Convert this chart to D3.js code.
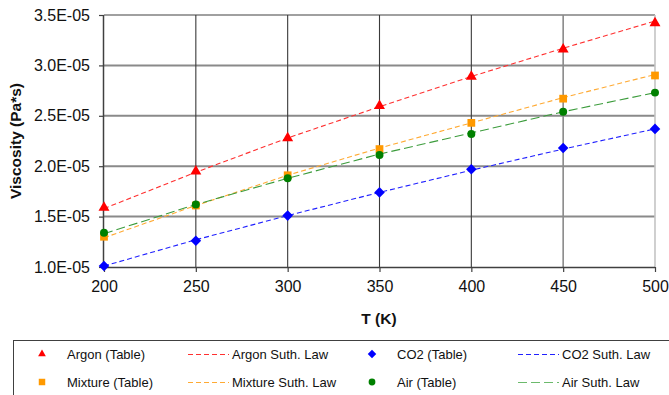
<!DOCTYPE html>
<html>
<head>
<meta charset="utf-8">
<script src="https://cdn.jsdelivr.net/npm/d3@7"></script>
<style>
  html, body { margin: 0; padding: 0; background: #fff; }
  svg { display: block; font-family: "Liberation Sans", Arial, sans-serif; }
</style>
</head>
<body>
<svg id="chart" width="669" height="395"></svg>
<script>
// Temperatures (K)
const temps = [200, 250, 300, 350, 400, 450, 500];

// Tabulated viscosities (units of 1E-05 Pa*s)
const argonTable   = [1.59, 1.95, 2.28, 2.60, 2.89, 3.16, 3.42];
const co2Table     = [1.01, 1.26, 1.51, 1.74, 1.97, 2.18, 2.37];
const mixtureTable = [1.30, 1.61, 1.91, 2.17, 2.43, 2.67, 2.90];
const airTable     = [1.34, 1.62, 1.88, 2.11, 2.32, 2.54, 2.73];

// Sutherland law curves (units of 1E-05 Pa*s)
const argonSuth   = [1.58, 1.94, 2.28, 2.59, 2.89, 3.17, 3.44];
const co2Suth     = [1.01, 1.27, 1.51, 1.74, 1.96, 2.17, 2.37];
const mixtureSuth = [1.29, 1.61, 1.91, 2.18, 2.43, 2.68, 2.91];
const airSuth     = [1.33, 1.62, 1.88, 2.12, 2.33, 2.54, 2.73];

// Axis ticks
const xTicks = [200, 250, 300, 350, 400, 450, 500];
const yTicks = [1.0, 1.5, 2.0, 2.5, 3.0, 3.5];
const yTickLabels = ["1.0E-05", "1.5E-05", "2.0E-05", "2.5E-05", "3.0E-05", "3.5E-05"];

const svg = d3.select("#chart");
const L = 104, R = 655, T = 15, B = 267;

const x = d3.scaleLinear().domain([200, 500]).range([L, R]);
const y = d3.scaleLinear().domain([1.0, 3.5]).range([B, T]);

// Gridlines: grey horizontals, dark verticals, light outer frame
const grid = svg.append("g");
grid.selectAll("line.h").data(yTicks.slice(1)).join("line")
  .attr("x1", L).attr("x2", R)
  .attr("y1", d => y(d)).attr("y2", d => y(d))
  .attr("stroke", d => d === 3.5 ? "#a0a0a0" : "#8a8a8a").attr("stroke-width", 2);
grid.selectAll("line.v").data(xTicks.slice(1)).join("line")
  .attr("y1", T).attr("y2", B)
  .attr("x1", d => x(d)).attr("x2", d => x(d))
  .attr("stroke", d => d === 500 ? "#c4c4c4" : (d === 450 ? "#8a8a8a" : "#3a3a3a"))
  .attr("stroke-width", d => d >= 450 ? 1.6 : 1.1);

// Axes
const xAxis = d3.axisBottom(x).tickValues(xTicks).tickSize(5).tickPadding(9).tickFormat(d3.format("d"));
const yAxis = d3.axisLeft(y).tickValues(yTicks).tickSize(5).tickPadding(9)
  .tickFormat((d, i) => yTickLabels[i]);

const gx = svg.append("g").attr("transform", `translate(0,${B})`).call(xAxis);
const gy = svg.append("g").attr("transform", `translate(${L},0)`).call(yAxis);
[gx, gy].forEach(g => {
  g.select(".domain").attr("stroke", "#404040").attr("stroke-width", 1.5);
  g.selectAll(".tick line").attr("stroke", "#404040").attr("stroke-width", 1.2);
  g.selectAll(".tick text").attr("fill", "#111").style("font-size", "16px")
    .style("font-family", "'Liberation Sans', Arial, sans-serif");
});
gx.select(".domain").attr("d", `M${L},0.5H${R}`);
gy.select(".domain").attr("d", `M-0.5,${B}V${T}`);

// Axis titles
svg.append("text").attr("x", 379).attr("y", 324).attr("text-anchor", "middle")
  .style("font-size", "15.5px").style("font-weight", "bold").attr("fill", "#111").text("T (K)");
svg.append("text").attr("transform", `translate(21,${(T + B) / 2}) rotate(-90)`)
  .attr("text-anchor", "middle").style("font-size", "15.5px").style("font-weight", "bold")
  .attr("fill", "#111").text("Viscosity (Pa*s)");

// Diamond drawn as a square turned 45 degrees
const symbolRhomb = {
  draw(ctx, size) {
    const r = Math.sqrt(size / 2);
    ctx.moveTo(0, -r); ctx.lineTo(r, 0); ctx.lineTo(0, r); ctx.lineTo(-r, 0); ctx.closePath();
  }
};

const series = [
  { table: argonTable, suth: argonSuth, color: "#ff0000", line: "#ff3030", dash: "5,3", shape: d3.symbolTriangle, size: 52, lsize: 26, name: "Argon" },
  { table: mixtureTable, suth: mixtureSuth, color: "#ff9900", line: "#ffaa33", dash: "5,3", shape: d3.symbolSquare, size: 60, lsize: 42, name: "Mixture" },
  { table: co2Table, suth: co2Suth, color: "#0000ff", line: "#2020ff", dash: "5,3", shape: symbolRhomb, size: 56, lsize: 36, name: "CO2" },
  { table: airTable, suth: airSuth, color: "#008000", line: "#3c9c3c", dash: "9,4", shape: d3.symbolCircle, size: 50, lsize: 36, name: "Air" }
];

const lineGen = d3.line().x((d, i) => x(temps[i])).y(d => y(d));

// Sutherland law lines
series.forEach(s => {
  svg.append("path").datum(s.suth).attr("d", lineGen)
    .attr("fill", "none").attr("stroke", s.line).attr("stroke-width", 1.1)
    .attr("stroke-dasharray", s.dash);
});
// Table markers
series.forEach(s => {
  svg.append("g").selectAll("path").data(s.table).join("path")
    .attr("transform", (d, i) => `translate(${x(temps[i])},${y(d)})`)
    .attr("d", d3.symbol().type(s.shape).size(s.size))
    .attr("fill", s.color);
});

// Legend
const lg = svg.append("g");
lg.append("rect").attr("x", 13.5).attr("y", 340.5).attr("width", 680).attr("height", 80)
  .attr("fill", "#fff").attr("stroke", "#404040").attr("stroke-width", 1);

const legendItems = [
  { s: series[0], col: 0, row: 0 },
  { s: series[2], col: 1, row: 0 },
  { s: series[1], col: 0, row: 1 },
  { s: series[3], col: 1, row: 1 }
];
legendItems.forEach(({ s, col, row }) => {
  const ox = col * 330, oy = 354 + row * 28;
  lg.append("path").attr("transform", `translate(${42 + ox},${oy})`)
    .attr("d", d3.symbol().type(s.shape).size(s.lsize)).attr("fill", s.color);
  lg.append("text").attr("x", 67 + ox).attr("y", oy).attr("dy", "0.35em")
    .style("font-size", "13px").attr("fill", "#111").text(`${s.name} (Table)`);
  lg.append("line").attr("x1", 188 + ox).attr("x2", 229 + ox)
    .attr("y1", oy + 0.5).attr("y2", oy + 0.5)
    .attr("stroke", s.name === "Air" ? "#6cba6c" : s.line).attr("stroke-width", 1)
    .attr("stroke-dasharray", s.name === "Air" ? "9,4" : "5,3");
  lg.append("text").attr("x", 232 + ox).attr("y", oy).attr("dy", "0.35em")
    .style("font-size", "13px").attr("fill", "#111").text(`${s.name} Suth. Law`);
});
</script>
</body>
</html>
